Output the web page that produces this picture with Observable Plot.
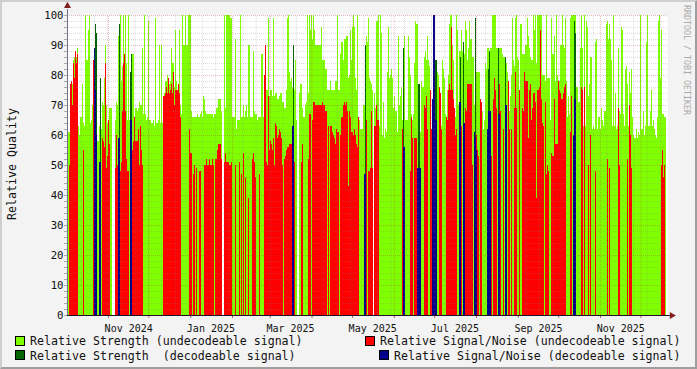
<!DOCTYPE html>
<html><head><meta charset="utf-8">
<script src="https://cdn.jsdelivr.net/npm/d3@7"></script>
<script src="https://cdn.jsdelivr.net/npm/@observablehq/plot@0.6"></script>
<style>
html,body{margin:0;padding:0;background:#f3f3f3}
#page{position:relative;width:697px;height:369px;overflow:hidden;background:#f3f3f3;box-sizing:border-box;font-family:"DejaVu Sans Mono",monospace;color:#111}
#edge{position:absolute;inset:0;box-sizing:border-box;border:2px solid;border-color:#cfcfcf #9e9e9e #9e9e9e #cfcfcf;pointer-events:none}
#page svg{position:absolute;left:0;top:0;background:transparent}
.lg{position:absolute;font-size:11.62px;line-height:14px;white-space:pre}
.sw{position:absolute;width:8px;height:8px;border:1px solid #000}
#ytitle{position:absolute;font-size:11.62px;left:12px;top:164px;white-space:pre;transform:translate(-50%,-50%) rotate(-90deg);transform-origin:center}
#mark{position:absolute;left:687px;top:60px;font-size:8.3px;color:#aaa;white-space:pre;transform:translate(-50%,-50%) rotate(90deg)}
</style></head><body>
<div id="page"></div>
<script>
// One value per pixel column of the graph (600 columns, Oct 2024 to Dec 2025)
const strengthUndecodeable = [
61,61,61,77,77,77,85,86,88,86, 89,63,60,66,66,77,64,63,100,85,
85,95,100,64,65,70,85,89,75,60, 58,58,63,63,62,71,70,79,90,70,
64,65,69,69,69,0,0,0,65,71, 70,93,60,100,78,83,100,83,100,84,
65,100,65,65,65,87,87,65,69,69, 68,69,71,70,70,89,67,100,67,65,
66,98,65,65,64,64,65,63,99,64, 64,65,90,64,90,64,65,74,78,78,
80,75,77,78,89,84,84,76,95,78, 75,77,95,70,67,100,90,90,100,90,
90,100,100,100,68,66,66,66,66,66, 67,66,66,67,68,66,73,72,68,67,
67,67,67,67,67,67,66,67,67,69, 69,72,72,72,68,0,0,100,69,100,
100,100,100,99,99,66,66,66,92,62, 65,65,65,100,66,66,70,66,68,70,
66,90,90,66,66,66,88,68,67,67, 65,66,66,66,87,87,66,80,90,75,
75,99,73,75,75,73,99,73,74,74, 72,72,73,74,74,71,71,69,69,75,
99,100,81,78,79,76,90,75,85,65, 0,0,74,77,77,69,66,66,70,71,
100,74,100,95,100,92,100,95,90,90, 90,90,90,90,96,85,85,85,82,82,
75,75,75,78,75,75,75,75,78,78, 100,75,75,87,91,91,85,92,92,93,
93,79,80,95,85,96,100,96,79,75, 100,65,65,62,62,62,70,70,90,93,
91,99,79,78,77,75,0,74,69,98, 98,100,63,100,94,60,71,59,62,61,
81,96,79,80,82,79,69,73,68,68, 61,93,70,73,76,65,70,93,65,65,
65,93,86,80,67,65,67,84,98,97, 97,60,65,61,78,76,76,86,88,85,
93,85,83,75,62,70,60,60,70,70, 81,80,76,74,63,85,82,79,67,66,
75,80,97,100,100,90,85,60,66,100, 95,70,88,88,95,88,90,87,98,95,
85,89,98,92,92,86,86,70,70,81, 81,81,81,72,71,68,62,65,84,82,
89,89,87,89,89,100,100,100,100,89, 89,89,89,89,89,87,86,86,84,84,
81,78,68,73,80,99,85,83,99,100, 86,85,75,97,97,87,87,87,90,90,
99,93,89,86,85,85,100,95,100,84, 100,100,100,100,100,80,80,80,78,100,
79,79,79,65,99,87,87,93,78,100, 80,78,78,90,90,100,90,89,99,78,
66,73,67,99,100,100,100,100,100,76, 76,71,71,89,100,89,63,100,63,98,
96,73,77,86,86,62,63,62,91,92, 62,66,66,62,69,65,63,68,68,97,
98,92,97,92,85,63,100,63,74,62, 63,89,68,67,96,95,67,63,82,83,
77,63,81,74,82,66,60,59,59,62, 59,61,60,100,62,62,68,60,63,91,
100,63,63,68,75,63,65,62,60,59, 66,98,100,79,95,67,67,66,66,0
];
const noiseUndecodeable = [
0,0,50,77,78,70,84,79,88,84, 87,0,0,0,0,0,55,0,0,0,
0,0,0,0,0,0,85,0,0,0, 0,0,0,0,0,59,58,56,84,49,
53,65,57,0,0,0,0,0,49,60, 50,0,0,48,51,68,84,87,68,52,
48,48,0,0,0,55,58,66,58,58, 58,62,50,63,55,50,0,0,0,0,
0,0,0,0,0,0,0,0,0,0, 0,0,0,0,0,0,73,73,74,76,
74,79,74,75,77,74,81,70,75,75, 75,77,74,66,0,0,0,0,0,0,
0,0,62,54,54,0,47,50,0,49, 0,0,48,48,0,0,0,50,50,52,
50,50,52,50,50,52,50,0,52,52, 55,57,57,57,52,0,0,51,54,51,
51,51,50,50,51,0,0,0,50,0, 0,0,51,0,47,0,54,0,46,0,
0,39,0,0,0,52,54,51,46,0, 0,0,47,0,0,0,0,80,90,51,
50,73,55,58,57,55,59,50,64,63, 59,60,62,61,59,50,0,52,53,55,
56,56,57,57,57,0,0,51,0,0, 0,0,0,0,51,57,0,0,0,0,
0,52,67,67,0,65,71,71,70,70, 70,70,70,70,70,71,70,70,68,68,
0,63,0,63,63,61,60,59,57,62, 61,61,0,60,66,66,70,71,70,71,
68,43,68,66,61,61,60,62,60,57, 56,66,0,0,0,0,0,0,0,65,
0,48,48,49,68,49,0,63,63,70, 65,65,0,0,0,0,0,0,0,0,
0,0,0,0,0,0,0,0,0,0, 0,0,0,0,0,62,0,0,0,0,
0,0,0,48,66,59,0,59,59,59, 0,0,0,0,0,0,0,70,69,73,
62,0,0,75,62,0,0,0,0,0, 0,0,76,74,62,0,0,0,0,66,
65,75,77,75,96,75,72,69,60,62, 0,0,0,0,63,0,0,0,69,68,
77,77,77,77,77,50,0,0,0,60, 55,53,0,72,71,0,0,0,0,0,
0,0,0,0,53,0,72,79,75,69, 0,0,77,68,0,0,62,0,0,62,
0,78,62,0,62,0,0,69,81,69, 0,0,75,0,0,69,68,81,78,78,
78,59,75,77,65,69,74,74,71,39, 75,75,76,95,72,64,63,0,71,47,
50,48,0,0,54,53,53,72,57,57, 57,78,75,74,72,72,74,76,77,0,
0,0,0,61,73,0,0,0,0,0, 0,0,0,0,76,75,0,76,0,0,
0,50,0,60,0,0,0,0,48,0, 0,0,0,0,0,0,0,0,0,0,
52,0,49,0,0,0,0,0,0,0, 0,69,50,0,0,0,0,0,0,0,
52,0,70,60,49,0,0,0,0,0, 0,0,0,0,0,0,0,0,0,0,
0,0,0,0,0,0,0,0,0,0, 0,0,0,0,50,55,46,50,0,0
];
// Decodeable samples are sparse: column number, then value
const strengthDecodeColumns = [28,29,33,52,63,64,226,298,336,351,352,368,369,393,396,408,421,422,431,438,507,508];
const strengthDecodeValues  = [97,94,79,97,81,87,90,90,89,77,77,85,85,86,91,99,82,88,89,86,98,94];
const noiseDecodeColumns = [27,28,29,32,33,51,52,63,64,225,226,297,298,336,337,350,351,352,353,365,366,367,368,369,392,393,396,397,407,408,409,420,421,422,423,431,432,438,439,506,507,508];
const noiseDecodeValues  = [89,75,60,51,51,59,59,65,65,63,63,47,47,56,56,49,49,49,49,72,100,100,65,65,71,71,64,64,61,59,55,62,68,68,68,67,67,70,70,60,72,72];
const xLabels = ["2024-11","2025-01","2025-03","2025-05","2025-07","2025-09","2025-11"];
const yLabelEvery = 10;
const legendEntries = [
  ["Relative Strength (undecodeable signal)","#7fff00"],
  ["Relative Strength  (decodeable signal)","#006400"],
  ["Relative Signal/Noise (undecodeable signal)","#ff0000"],
  ["Relative Signal/Noise (decodeable signal)","#00008b"]
];

const DAY=864e5, NOV1=Date.UTC(2024,10,1);
const t0=NOV1-30.4*DAY, step=445.1*DAY/600;
const colStart=i=>new Date(t0+i*step), colEnd=i=>new Date(t0+(i+1)*step);
const domain=[colStart(0),colEnd(599)];
const row=(i,v)=>({a:colStart(i),b:colEnd(i),v});
const gU=strengthUndecodeable.map((v,i)=>row(i,v)).filter(d=>d.v>0);
const rU=noiseUndecodeable.map((v,i)=>row(i,v)).filter(d=>d.v>0);
const gD=strengthDecodeColumns.map((c,k)=>row(c,strengthDecodeValues[k]));
const rD=noiseDecodeColumns.map((c,k)=>row(c,noiseDecodeValues[k]));
const bars=(data,fill)=>Plot.rectY(data,{x1:"a",x2:"b",y1:()=>0,y2:"v",fill,shapeRendering:"crispEdges"});

const monthTicks=d3.utcMonth.range(domain[0],domain[1]);
const minorX=d3.range(1,45).map(k=>new Date(t0+k*10*DAY));
const minorY=d3.range(0,101,2).filter(v=>v%10);
const majorY=d3.range(0,101,10);
const labelDates=xLabels.map(s=>new Date(Date.parse(s+"-01T00:00:00Z")+15*DAY));
const fmt=d3.utcFormat("%b %Y");
const full={y1:()=>0,y2:()=>100};

const svg=Plot.plot({
  width:697,height:369,marginLeft:67,marginRight:30,marginTop:15,marginBottom:54,
  style:{fontFamily:"'DejaVu Sans Mono',monospace",background:"transparent",overflow:"visible"},
  x:{type:"utc",domain,range:[67,667]},
  y:{type:"linear",domain:[0,100],range:[315,15]},
  marks:[
    Plot.frame({fill:"#fff",stroke:null}),
    bars(gU,"#7fff00"),bars(gD,"#006400"),bars(rU,"#ff0000"),bars(rD,"#00008b"),
    Plot.ruleX(minorX,{stroke:"#808080",strokeOpacity:.27,strokeDasharray:"1,1",...full}),
    Plot.ruleY(minorY,{stroke:"#808080",strokeOpacity:.27,strokeDasharray:"1,1"}),
    Plot.ruleX(monthTicks,{stroke:"#b03030",strokeOpacity:.3,strokeDasharray:"1,1",...full}),
    Plot.ruleY(majorY,{stroke:"#b03030",strokeOpacity:.3,strokeDasharray:"1,1"}),
    Plot.axisY({ticks:d3.range(0,101,2),tickFormat:v=>v%yLabelEvery?"":v,tickSize:3,stroke:"#aaa",fontSize:10.67,tickPadding:1,label:null,fill:"#111"}),
    Plot.axisX({ticks:labelDates,tickFormat:fmt,tickSize:0,fontSize:10,tickPadding:9,label:null,fill:"#111"}),
    Plot.ruleX(monthTicks,{stroke:"#a06a6a",y1:()=>-1,y2:()=>0,clip:false}),
    Plot.ruleX([domain[0]],{stroke:"#70708a",y1:()=>0,y2:()=>102}),
    Plot.ruleY([0],{stroke:"#201028",x1:()=>domain[0],x2:()=>new Date(domain[1].getTime()+4*DAY)}),
    Plot.dot([domain[0]],{x:d=>d,y:()=>103.2,symbol:"triangle",r:2.6,fill:"#7f1f1f",stroke:"none"}),
    Plot.dot([domain[1]],{x:d=>new Date(d.getTime()+3.2*DAY),y:()=>0,symbol:"triangle",rotate:90,r:2.6,fill:"#7f1f1f",stroke:"none"})
  ]
});
const page=document.getElementById("page");
page.append(svg);
const html=(cls,css,txt)=>{const e=document.createElement("div");e.className=cls;if(css)e.style.cssText=css;if(txt)e.textContent=txt;page.append(e);return e;};
const place=[[15,336,30,334],[15,350,30,349],[365,336,380,334],[379,350,394,349]];
legendEntries.forEach(([t,c],k)=>{const p=place[k];
  html("sw",`left:${p[0]}px;top:${p[1]}px;background:${c}`);
  html("lg",`left:${p[2]}px;top:${p[3]}px`,t);});
const yt=html("","","Relative Quality");yt.id="ytitle";
const wm=html("","","RRDTOOL / TOBI OETIKER");wm.id="mark";
document.querySelector("#page").insertAdjacentHTML("beforeend",'<div id="edge"></div>');
</script>
</body></html>
